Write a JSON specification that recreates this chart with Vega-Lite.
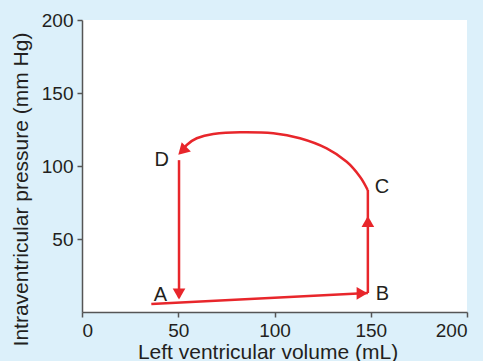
{
  "$schema": "https://vega.github.io/schema/vega-lite/v6.json",
  "width": 385,
  "height": 292,
  "autosize": {"type": "none"},
  "padding": {"left": 82, "top": 20, "right": 16, "bottom": 49},
  "background": "#dcf0fa",
  "config": {
    "view": {"fill": "white", "stroke": null},
    "font": "Liberation Sans",
    "axis": {
      "grid": false,
      "domainColor": "#555555",
      "domainWidth": 1.5,
      "tickColor": "#555555",
      "tickWidth": 1.5,
      "tickSize": 5,
      "labelFont": "Liberation Sans",
      "labelFontSize": 19,
      "labelColor": "#231f20",
      "labelPadding": 4,
      "titleFont": "Liberation Sans",
      "titleFontSize": 21,
      "titleFontWeight": "normal",
      "titleColor": "#231f20"
    }
  },
  "datasets": {
    "loop": [
      {"series": "AB", "i": 0, "vol": 36, "p": 5.5},
      {"series": "AB", "i": 1, "vol": 148.5, "p": 13},
      {"series": "BC", "i": 0, "vol": 148.5, "p": 13},
      {"series": "BC", "i": 1, "vol": 148.5, "p": 83.6},
      {"series": "CD", "i": 0, "vol": 148.4, "p": 83.6},
      {"series": "CD", "i": 1, "vol": 144.4, "p": 92.7},
      {"series": "CD", "i": 2, "vol": 137.5, "p": 102.9},
      {"series": "CD", "i": 3, "vol": 127.1, "p": 112.1},
      {"series": "CD", "i": 4, "vol": 113.2, "p": 119.0},
      {"series": "CD", "i": 5, "vol": 99.4, "p": 122.4},
      {"series": "CD", "i": 6, "vol": 82.1, "p": 123.1},
      {"series": "CD", "i": 7, "vol": 68.2, "p": 121.9},
      {"series": "CD", "i": 8, "vol": 59.6, "p": 119.0},
      {"series": "CD", "i": 9, "vol": 54.4, "p": 114.4},
      {"series": "CD", "i": 10, "vol": 52.3, "p": 110.5},
      {"series": "DA", "i": 0, "vol": 50.4, "p": 104},
      {"series": "DA", "i": 1, "vol": 50.4, "p": 10}
    ],
    "arrows": [
      {"dir": "down", "vol": 50.4, "p": 12.3},
      {"dir": "up", "vol": 148.5, "p": 62},
      {"dir": "right", "vol": 145.5, "p": 12.8}
    ],
    "arrowD": [
      {"dir": "sw", "vol": 52.1, "p": 110.4}
    ],
    "labels": [
      {"label": "A", "vol": 40.8, "p": 11.6},
      {"label": "B", "vol": 156.1, "p": 12.3},
      {"label": "C", "vol": 155.8, "p": 85.6},
      {"label": "D", "vol": 41.4, "p": 104.1}
    ]
  },
  "encoding": {
    "x": {
      "field": "vol",
      "type": "quantitative",
      "scale": {"domain": [0, 200], "nice": false, "zero": false},
      "axis": {
        "title": "Left ventricular volume (mL)",
        "values": [0, 50, 100, 150, 200],
        "titleX": 185.5,
        "titleY": 46,
        "titleBaseline": "alphabetic"
      }
    },
    "y": {
      "field": "p",
      "type": "quantitative",
      "scale": {"domain": [0, 200], "nice": false, "zero": false},
      "axis": {
        "title": "Intraventricular pressure (mm Hg)",
        "values": [50, 100, 150, 200],
        "titleX": -55,
        "titleY": 169,
        "titleBaseline": "alphabetic",
        "titleAngle": 270
      }
    }
  },
  "layer": [
    {
      "data": {"name": "loop"},
      "mark": {"type": "line", "color": "#e8262b", "strokeWidth": 2.5, "interpolate": "cardinal"},
      "encoding": {
        "detail": {"field": "series", "type": "nominal"},
        "order": {"field": "i", "type": "quantitative"}
      }
    },
    {
      "data": {"name": "arrows"},
      "mark": {"type": "point", "filled": true, "color": "#e8262b", "opacity": 1, "size": 160},
      "encoding": {
        "shape": {
          "field": "dir",
          "type": "nominal",
          "scale": {"domain": ["down", "up", "right"], "range": ["triangle-down", "triangle-up", "triangle-right"]},
          "legend": null
        }
      }
    },
    {
      "data": {"name": "arrowD"},
      "mark": {"type": "point", "filled": true, "color": "#e8262b", "opacity": 1, "size": 170, "shape": "triangle-right", "angle": 135}
    },
    {
      "data": {"name": "labels"},
      "mark": {"type": "text", "font": "Liberation Sans", "fontSize": 20, "color": "#231f20", "align": "center", "baseline": "middle"},
      "encoding": {"text": {"field": "label", "type": "nominal"}}
    }
  ]
}
